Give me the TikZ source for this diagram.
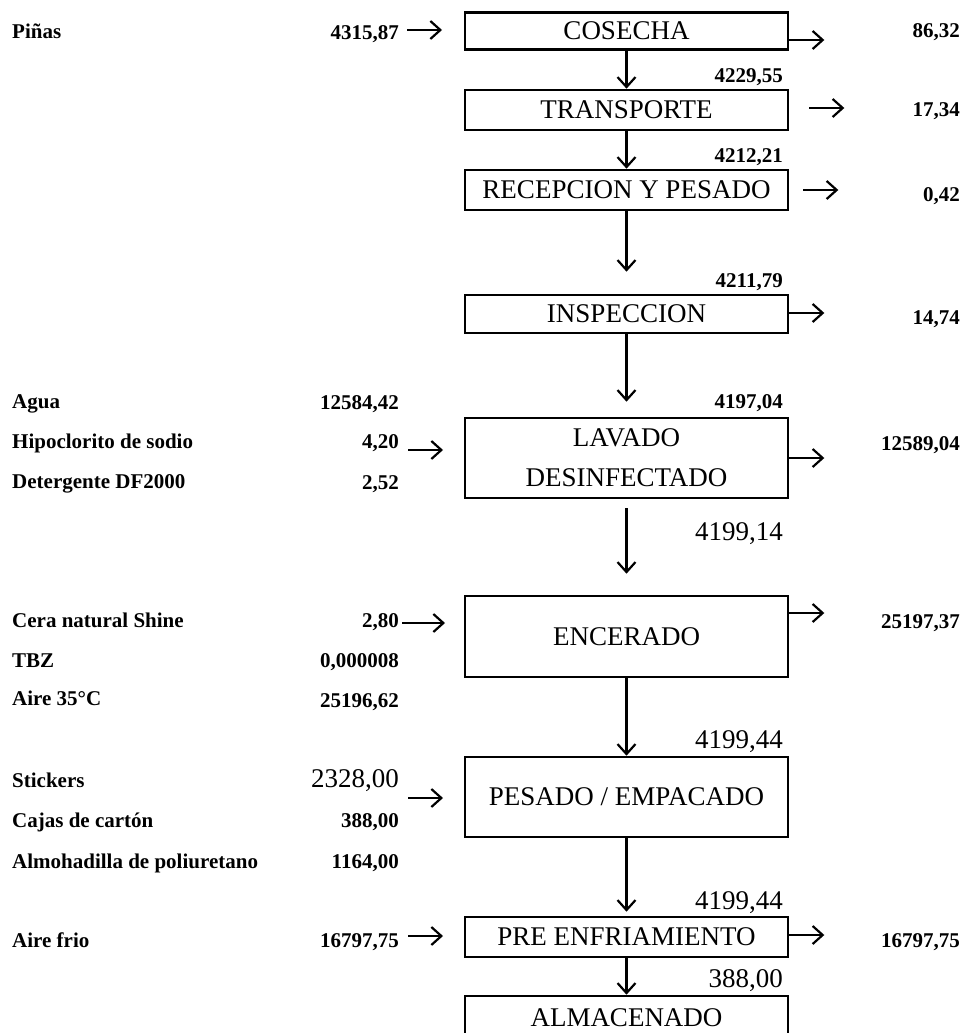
\documentclass[tikz,border=0pt]{standalone}
\usepackage{fontspec}
\setmainfont{Liberation Serif}
\usetikzlibrary{arrows.meta}

\tikzset{
  proc/.style={draw,line width=2.6pt,minimum width=323pt,inner sep=0pt,align=center,
    font=\fontsize{27}{40}\selectfont},
  flow/.style={-{Straight Barb[length=10pt,width=18pt]},line width=2.2pt},
  lbl/.style={anchor=base west,inner sep=0pt,font=\fontsize{21}{24}\selectfont\bfseries},
  qty/.style={anchor=base east,inner sep=0pt,font=\fontsize{21}{24}\selectfont\bfseries},
  big/.style={anchor=base east,inner sep=0pt,font=\fontsize{27}{31}\selectfont},
}

\begin{document}
\begin{tikzpicture}[x=1pt,y=-1pt]
  \useasboundingbox (0,0) rectangle (963,1033);
  \clip (0,0) rectangle (963,1033);

  % process boxes
  \node[proc,minimum height=37pt] (cos) at (626.5,31) {COSECHA};
  \node[proc,minimum height=40pt] (tra) at (626.5,110) {TRANSPORTE};
  \node[proc,minimum height=40pt] (rec) at (626.5,190) {RECEPCION Y PESADO};
  \node[proc,minimum height=38pt] (ins) at (626.5,314) {INSPECCION};
  \node[proc,minimum height=80pt] (lav) at (626.5,458) {LAVADO\\DESINFECTADO};
  \node[proc,minimum height=81pt] (enc) at (626.5,636.5) {ENCERADO};
  \node[proc,minimum height=80pt] (pes) at (626.5,797) {PESADO / EMPACADO};
  \node[proc,minimum height=40pt] (pre) at (626.5,937) {PRE ENFRIAMIENTO};
  \node[proc,minimum height=44pt] (alm) at (626.5,1018) {ALMACENADO};

  % main flow
  \draw[flow] (cos) -- (tra);
  \draw[flow] (tra) -- (rec);
  \draw[flow] (rec.south) -- ([yshift=22pt]ins.north);
  \draw[flow] (ins.south) -- ([yshift=15pt]lav.north);
  \draw[flow] ([yshift=-9pt]lav.south) -- ([yshift=21pt]enc.north);
  \draw[flow] (enc) -- (pes);
  \draw[flow] (pes.south) -- ([yshift=4pt]pre.north);
  \draw[flow] (pre) -- (alm);

  % flow between stages
  \node[qty] (m1) at (783,82) {4229,55};
  \node[qty] (m2) at (783,162) {4212,21};
  \node[qty] (m3) at (783,287) {4211,79};
  \node[qty] (m4) at (783,408) {4197,04};
  \node[big] (m5) at (783,540) {4199,14};
  \node[big] (m6) at (783,748) {4199,44};
  \node[big] (m7) at (783,909) {4199,44};
  \node[big] (m8) at (783,987) {388,00};

  % outputs
  \node[qty] (o1) at (960,38) {86,32};
  \node[qty] (o2) at (960,116) {17,34};
  \node[qty] (o3) at (960,201) {0,42};
  \node[qty] (o4) at (960,324) {14,74};
  \node[qty] (o5) at (960,450) {12589,04};
  \node[qty] (o6) at (960,628) {25197,37};
  \node[qty] (o7) at (960,947) {16797,75};
  \draw[flow] ([yshift=-9pt]cos.east) -- ++(35pt,0);
  \draw[flow] ([xshift=20pt,yshift=2pt]tra.east) -- ++(35pt,0);
  \draw[flow] ([xshift=14pt]rec.east) -- ++(35pt,0);
  \draw[flow] ([yshift=1pt]ins.east) -- ++(35pt,0);
  \draw[flow] (lav.east) -- ++(35pt,0);
  \draw[flow] ([yshift=23.5pt]enc.east) -- ++(35pt,0);
  \draw[flow] ([yshift=2pt]pre.east) -- ++(35pt,0);

  % inputs
  \node[lbl] (l1) at (12,39) {Piñas};
  \node[qty] (q1) at (399,40) {4315,87};
  \node[lbl] (l2) at (12,408) {Agua};
  \node[qty] (q2) at (399,409) {12584,42};
  \node[lbl] (l3) at (12,448) {Hipoclorito de sodio};
  \node[qty] (q3) at (399,448) {4,20};
  \node[lbl] (l4) at (12,488) {Detergente DF2000};
  \node[qty] (q4) at (399,489) {2,52};
  \node[lbl] (l5) at (12,627) {Cera natural Shine};
  \node[qty] (q5) at (399,627) {2,80};
  \node[lbl] (l6) at (12,667) {TBZ};
  \node[qty] (q6) at (399,667) {0,000008};
  \node[lbl] (l7) at (12,705) {Aire 35°C};
  \node[qty] (q7) at (399,707) {25196,62};
  \node[lbl] (l8) at (12,787) {Stickers};
  \node[big] (q8) at (399,787) {2328,00};
  \node[lbl] (l9) at (12,827) {Cajas de cartón};
  \node[qty] (q9) at (399,827) {388,00};
  \node[lbl] (l10) at (12,868) {Almohadilla de poliuretano};
  \node[qty] (q10) at (399,868) {1164,00};
  \node[lbl] (l11) at (12,947) {Aire frio};
  \node[qty] (q11) at (399,947) {16797,75};
  \draw[flow] ([xshift=8pt,yshift=10pt]q1.base east) -- ++(35pt,0);
  \draw[flow] ([xshift=9pt,yshift=-2pt]q3.base east) -- ++(35pt,0);
  \draw[flow] ([xshift=3pt,yshift=4pt]q5.base east) -- ++(43pt,0);
  \draw[flow] ([xshift=9pt,yshift=-11pt]q8.base east) -- ++(35pt,0);
  \draw[flow] ([xshift=9pt,yshift=11pt]q11.base east) -- ++(35pt,0);
\end{tikzpicture}
\end{document}
